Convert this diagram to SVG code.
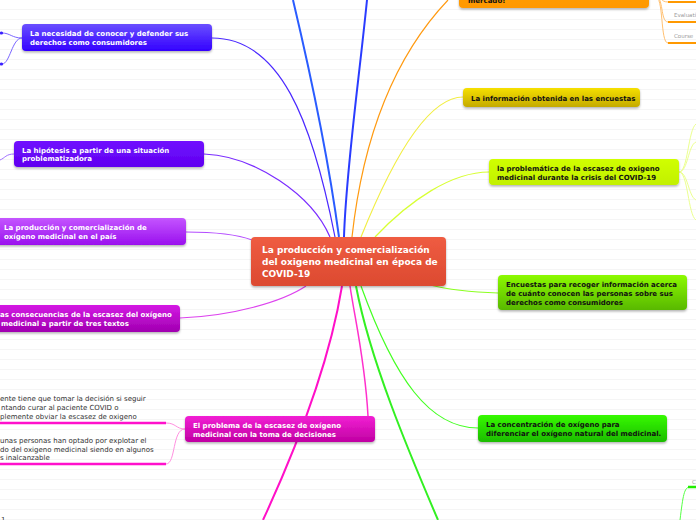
<svg xmlns="http://www.w3.org/2000/svg" width="696" height="520" viewBox="0 0 696 520">
<defs>
<pattern id="stripes" width="10" height="10" patternUnits="userSpaceOnUse">
<rect width="10" height="10" fill="#ffffff"/>
<rect y="9" width="10" height="1" fill="#f5f5f5"/>
</pattern>
<linearGradient id="gCenter" x1="0" y1="0" x2="0" y2="1"><stop offset="0" stop-color="#ef5c42"/><stop offset="1" stop-color="#dc4a30"/></linearGradient>
<linearGradient id="g1" x1="0" y1="0" x2="0" y2="1"><stop offset="0" stop-color="#6a50ff"/><stop offset="1" stop-color="#3300ff"/></linearGradient>
<linearGradient id="g2" x1="0" y1="0" x2="0" y2="1"><stop offset="0" stop-color="#7010ff"/><stop offset="1" stop-color="#6000f0"/></linearGradient>
<linearGradient id="g3" x1="0" y1="0" x2="0" y2="1"><stop offset="0" stop-color="#c455ff"/><stop offset="1" stop-color="#9a10ee"/></linearGradient>
<linearGradient id="g4" x1="0" y1="0" x2="0" y2="1"><stop offset="0" stop-color="#d418e4"/><stop offset="1" stop-color="#a000b0"/></linearGradient>
<linearGradient id="g5" x1="0" y1="0" x2="0" y2="1"><stop offset="0" stop-color="#f220d4"/><stop offset="1" stop-color="#c000a2"/></linearGradient>
<linearGradient id="gOr" x1="0" y1="0" x2="0" y2="1"><stop offset="0" stop-color="#ffa000"/><stop offset="1" stop-color="#ff9800"/></linearGradient>
<linearGradient id="gYe" x1="0" y1="0" x2="0" y2="1"><stop offset="0" stop-color="#f6e000"/><stop offset="1" stop-color="#c4aa00"/></linearGradient>
<linearGradient id="gLi" x1="0" y1="0" x2="0" y2="1"><stop offset="0" stop-color="#d0ff00"/><stop offset="1" stop-color="#c2f000"/></linearGradient>
<linearGradient id="gGr1" x1="0" y1="0" x2="0" y2="1"><stop offset="0" stop-color="#8cfa00"/><stop offset="1" stop-color="#58b800"/></linearGradient>
<linearGradient id="gGr2" x1="0" y1="0" x2="0" y2="1"><stop offset="0" stop-color="#36fa00"/><stop offset="1" stop-color="#1cbc00"/></linearGradient>
<filter id="sh" x="-5%" y="-20%" width="110%" height="150%"><feDropShadow dx="0" dy="1.5" stdDeviation="1" flood-color="#000" flood-opacity="0.3"/></filter>
</defs>
<style>
.t{font-family:"DejaVu Sans","Liberation Sans",sans-serif;font-weight:bold;font-size:7px}
.w{fill:#ffffff}
.k{fill:#111111}
.c{font-family:"DejaVu Sans","Liberation Sans",sans-serif;font-weight:bold;font-size:9px;fill:#ffffff}
.s{font-family:"DejaVu Sans","Liberation Sans",sans-serif;font-size:7px;fill:#333333}
.g{font-family:"DejaVu Sans","Liberation Sans",sans-serif;font-size:5.5px;fill:#9a9a9a}
.ln{fill:none}
</style>
<rect width="696" height="520" fill="url(#stripes)"/>

<g id="connectors" class="ln">
<path d="M212,38 C280,38 312,120 335,237" stroke="#4a28ff" stroke-width="1.2"/>
<path d="M293,0 C312,80 330,170 339,237" stroke="#2a5cff" stroke-width="2"/>
<path d="M367,0 C359,80 346,170 344,237" stroke="#2a3cff" stroke-width="2"/>
<path d="M448,0 C410,40 366,110 352,237" stroke="#ff9a10" stroke-width="1.2"/>
<path d="M204,154 C255,156 312,195 330,237" stroke="#7a2cff" stroke-width="1.2"/>
<path d="M186,232 C212,232 236,234 252,240" stroke="#b44cff" stroke-width="1.2"/>
<path d="M463,97 C428,97 392,160 361,237" stroke="#f2ee44" stroke-width="1.2"/>
<path d="M489,172 C452,172 410,200 375,237" stroke="#d8ff33" stroke-width="1.2"/>
<path d="M498,293 C470,292 450,290 430,285" stroke="#8cff22" stroke-width="1.2"/>
<path d="M478,428 C430,428 395,380 361,286" stroke="#44ff22" stroke-width="1.2"/>
<path d="M356,286 C370,360 408,450 438,520" stroke="#33f022" stroke-width="2"/>
<path d="M368,416 C365,360 355,320 350,286" stroke="#ff30cc" stroke-width="1.5"/>
<path d="M342,286 C330,360 300,440 263,520" stroke="#ff10c8" stroke-width="2"/>
<path d="M180,318 C232,316 282,302 306,286" stroke="#dd44ee" stroke-width="1.2"/>
<!-- child stubs -->
<path d="M22,38 C12,38 10,33 2,33" stroke="#7a66ff" stroke-width="1"/>
<path d="M22,38 C12,38 10,64 2,64" stroke="#7a66ff" stroke-width="1"/>
<circle cx="1.5" cy="33" r="1.6" fill="#3a20ff"/>
<circle cx="1.5" cy="64" r="1.6" fill="#3a20ff"/>
<path d="M14,154 C6,154 5,158 0,160" stroke="#a070ff" stroke-width="1"/>
<path d="M655,-4 C662,-4 660,2 668,2" stroke="#ffc070" stroke-width="1"/>
<path d="M655,-4 C664,-4 660,22 668,22" stroke="#ffc070" stroke-width="1"/>
<path d="M655,-4 C664,-4 660,43 668,43" stroke="#ffc070" stroke-width="1"/>
<path d="M668,2 H696 M668,22 H696 M668,43 H696" stroke="#ff9900" stroke-width="2"/>
<path d="M679,172 C688,172 688,130 696,124" stroke="#ecff90" stroke-width="1"/>
<path d="M679,172 C688,172 688,145 696,142" stroke="#ecff90" stroke-width="1"/>
<path d="M679,172 C688,172 688,196 696,200" stroke="#ecff90" stroke-width="1"/>
<path d="M679,172 C688,172 688,215 696,220" stroke="#ecff90" stroke-width="1"/>
<path d="M185,429 C176,429 176,423 166,423" stroke="#ff90e0" stroke-width="1"/>
<path d="M185,429 C172,429 176,464 166,464" stroke="#ff90e0" stroke-width="1"/>
<path d="M0,423 H166 M0,464 H166" stroke="#ff10cc" stroke-width="2.5"/>
<path d="M680,520 C683,496 684,487 690,487" stroke="#55ff44" stroke-width="1"/>
<path d="M688,487 H696" stroke="#22ee00" stroke-width="2.5"/>
</g>

<g id="center">
<rect x="251" y="237" width="195" height="49" rx="4" fill="url(#gCenter)" filter="url(#sh)"/>
<text class="c" x="262" y="253">La producción y comercialización</text>
<text class="c" x="262" y="265">del oxigeno medicinal en época de</text>
<text class="c" x="262" y="277">COVID-19</text>
</g>

<g id="node-necesidad">
<rect x="22" y="24" width="190" height="27" rx="4" fill="url(#g1)" filter="url(#sh)"/>
<text class="t w" x="30" y="36">La necesidad de conocer y defender sus</text>
<text class="t w" x="30" y="45">derechos como consumidores</text>
</g>

<g id="node-hipotesis">
<rect x="14" y="141" width="190" height="26" rx="4" fill="url(#g2)" filter="url(#sh)"/>
<text class="t w" x="22" y="153">La hipótesis a partir de una situación</text>
<text class="t w" x="22" y="161">problematizadora</text>
</g>

<g id="node-produccion">
<rect x="-6" y="218" width="192" height="27" rx="4" fill="url(#g3)" filter="url(#sh)"/>
<text class="t w" x="4" y="230">La producción y comercialización de</text>
<text class="t w" x="4" y="239">oxígeno medicinal en el país</text>
</g>

<g id="node-consecuencias">
<rect x="-10" y="305" width="190" height="27" rx="4" fill="url(#g4)" filter="url(#sh)"/>
<text class="t w" x="0" y="317">as consecuencias de la escasez del oxígeno</text>
<text class="t w" x="1" y="326">medicinal a partir de tres textos</text>
</g>

<g id="node-problema">
<rect x="185" y="416" width="190" height="26" rx="4" fill="url(#g5)" filter="url(#sh)"/>
<text class="t w" x="193" y="428">El problema de la escasez de oxígeno</text>
<text class="t w" x="193" y="437">medicinal con la toma de decisiones</text>
</g>

<g id="sub-decision">
<text class="s" x="0" y="401">ente tiene que tomar la decisión si seguir</text>
<text class="s" x="1" y="410">ntando curar al paciente COVID o</text>
<text class="s" x="0" y="419">plemente obviar la escasez de oxigeno</text>
</g>
<g id="sub-explotar">
<text class="s" x="0" y="443">unas personas han optado por explotar el</text>
<text class="s" x="0" y="452">do del oxigeno medicinal siendo en algunos</text>
<text class="s" x="0" y="460">s inalcanzable</text>
</g>
<g id="sub-bottom"><text class="s" x="1" y="522">1</text></g>

<g id="node-mercado">
<rect x="459" y="-20" width="190" height="28" rx="4" fill="url(#gOr)" filter="url(#sh)"/>
<text class="t k" x="468" y="3">mercado!</text>
</g>
<g id="sub-orange">
<text class="g" x="674" y="17">Evaluati</text>
<text class="g" x="674" y="38">Course</text>
</g>

<g id="node-informacion">
<rect x="463" y="88" width="177" height="19" rx="4" fill="url(#gYe)" filter="url(#sh)"/>
<text class="t k" x="471" y="101">La información obtenida en las encuestas</text>
</g>

<g id="node-problematica">
<rect x="489" y="159" width="190" height="26" rx="4" fill="url(#gLi)" filter="url(#sh)"/>
<text class="t k" x="497" y="171">la problemática de la escasez de oxigeno</text>
<text class="t k" x="497" y="180">medicinal durante la crisis del COVID-19</text>
</g>

<g id="node-encuestas">
<rect x="498" y="275" width="189" height="35" rx="4" fill="url(#gGr1)" filter="url(#sh)"/>
<text class="t k" x="506" y="287">Encuestas para recoger información acerca</text>
<text class="t k" x="506" y="296">de cuánto conocen las personas sobre sus</text>
<text class="t k" x="506" y="305">derechos como consumidores</text>
</g>

<g id="node-concentracion">
<rect x="478" y="415" width="189" height="27" rx="4" fill="url(#gGr2)" filter="url(#sh)"/>
<text class="t k" x="486" y="427">La concentración de oxígeno para</text>
<text class="t k" x="486" y="436">diferenciar el oxígeno natural del medicinal.</text>
</g>

<g id="sub-green"><text class="g" x="692" y="484">C</text></g>
</svg>
